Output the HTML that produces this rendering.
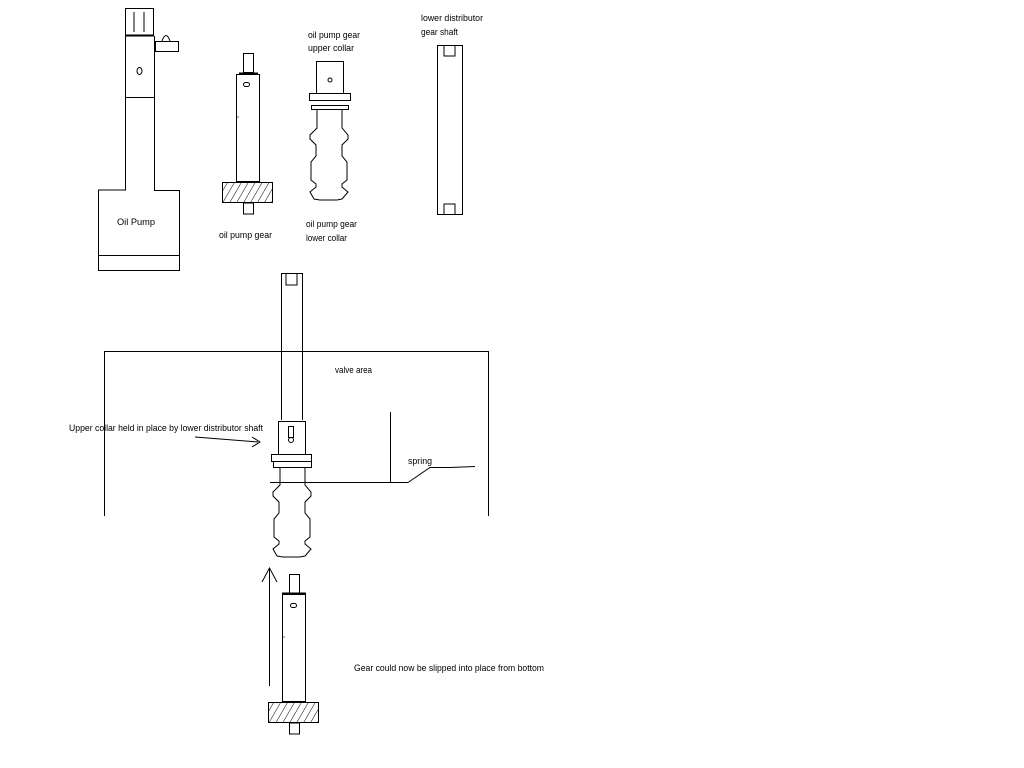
<!DOCTYPE html>
<html><head><meta charset="utf-8"><style>
html,body{margin:0;padding:0;background:#fff;width:1024px;height:768px;overflow:hidden}
text{font-family:"Liberation Sans",sans-serif;font-size:9px;fill:#000}
</style></head><body>
<svg width="1024" height="768" viewBox="0 0 1024 768" xmlns="http://www.w3.org/2000/svg">
<defs>
<pattern id="h" width="6" height="6" patternUnits="userSpaceOnUse" patternTransform="rotate(30)">
<line x1="0" y1="0" x2="0" y2="6" stroke="#000" stroke-width="1"/>
</pattern>
<path id="col" d="M317 110 V128 L310 135 V139 L316 145 V156 L311 162 V180 L316 184 V187 L310 192 L314 199 L320 200 H337 L342 199 L348 192 L342 187 V184 L347 180 V162 L342 156 V145 L348 139 V135 L342 128 V110"/>
</defs>
<g fill="none" stroke="#000" stroke-width="1">
<!-- Oil pump assembly -->
<rect x="125.5" y="8.5" width="28" height="27"/>
<path d="M134 12 v20 M144 12 v20"/>
<line x1="125" y1="35.5" x2="154" y2="35.5" stroke-width="2"/>
<path d="M125.5 36 V190 H98.5 V270.5 H179.5 V190.5 H154.5 V36"/>
<line x1="125" y1="97.5" x2="154" y2="97.5"/>
<line x1="98" y1="255.5" x2="179" y2="255.5"/>
<rect x="155.5" y="41.5" width="23" height="10"/>
<path d="M162 41 Q166 30 170 41"/>
<ellipse cx="139.5" cy="71" rx="2.5" ry="3.5"/>
<!-- oil pump gear -->
<rect x="243.5" y="53.5" width="10" height="19"/>
<line x1="239" y1="73.5" x2="258" y2="73.5" stroke-width="2"/>
<rect x="236.5" y="74.5" width="23" height="107"/>
<rect x="243.5" y="82.5" width="6" height="4" rx="2"/>
<rect x="222.5" y="182.5" width="50" height="20" fill="url(#h)"/>
<rect x="243.5" y="203" width="10" height="11"/>
<!-- upper collar -->
<rect x="316.5" y="61.5" width="27" height="32"/>
<circle cx="330" cy="80" r="2"/>
<rect x="309.5" y="93.5" width="41" height="7"/>
<rect x="311.5" y="105.5" width="37" height="4"/>
<use href="#col"/>
<!-- lower distributor shaft -->
<rect x="437.5" y="45.5" width="25" height="169"/>
<path d="M444 46 V56 H455 V46 M444 214 V204 H455 V214"/>
<!-- valve area box -->
<path d="M104.5 516 V351.5 H488.5 V516"/>
<!-- distributor shaft in place -->
<path d="M281.5 420 V273.5 H302.5 V420"/>
<path d="M286 274 V285 H297 V274"/>
<rect x="278.5" y="421.5" width="27" height="33"/>
<rect x="288.5" y="426.5" width="5" height="11"/>
<circle cx="291" cy="440" r="2.5"/>
<rect x="271.5" y="454.5" width="40" height="7"/>
<rect x="273.5" y="461.5" width="38" height="6"/>
<use href="#col" transform="translate(-37,357)"/>
<line x1="270" y1="482.5" x2="408" y2="482.5"/>
<line x1="390.5" y1="412" x2="390.5" y2="482"/>
<path d="M408 482.5 L430 467.5 H450 L475 466.5"/>
<path d="M195 437 L258 442 M252 437 L260 442 L252 447"/>
<!-- bottom gear -->
<path d="M269.5 686 V568 M262 582 L269.5 568 L277 582"/>
<rect x="289.5" y="574.5" width="10" height="19"/>
<line x1="282" y1="593.5" x2="306" y2="593.5" stroke-width="2"/>
<rect x="282.5" y="594.5" width="23" height="107"/>
<rect x="290.5" y="603.5" width="6" height="4" rx="2"/>
<rect x="268.5" y="702.5" width="50" height="20" fill="url(#h)"/>
<rect x="289.5" y="723" width="10" height="11"/>
</g>
<circle cx="238" cy="117" r="0.6"/>
<circle cx="284" cy="637" r="0.6"/>
<text x="117" y="225" textLength="38" lengthAdjust="spacingAndGlyphs">Oil Pump</text>
<text x="219" y="238" textLength="53" lengthAdjust="spacingAndGlyphs">oil pump gear</text>
<text x="308" y="38" textLength="52" lengthAdjust="spacingAndGlyphs">oil pump gear</text>
<text x="308" y="51" textLength="46" lengthAdjust="spacingAndGlyphs">upper collar</text>
<text x="306" y="227" textLength="51" lengthAdjust="spacingAndGlyphs">oil pump gear</text>
<text x="306" y="241" textLength="41" lengthAdjust="spacingAndGlyphs">lower collar</text>
<text x="421" y="21" textLength="62" lengthAdjust="spacingAndGlyphs">lower distributor</text>
<text x="421" y="35" textLength="37" lengthAdjust="spacingAndGlyphs">gear shaft</text>
<text x="335" y="373" textLength="37" lengthAdjust="spacingAndGlyphs">valve area</text>
<text x="69" y="431" textLength="194" lengthAdjust="spacingAndGlyphs">Upper collar held in place by lower distributor shaft</text>
<text x="408" y="464" textLength="24" lengthAdjust="spacingAndGlyphs">spring</text>
<text x="354" y="671" textLength="190" lengthAdjust="spacingAndGlyphs">Gear could now be slipped into place from bottom</text>
</svg>
</body></html>
